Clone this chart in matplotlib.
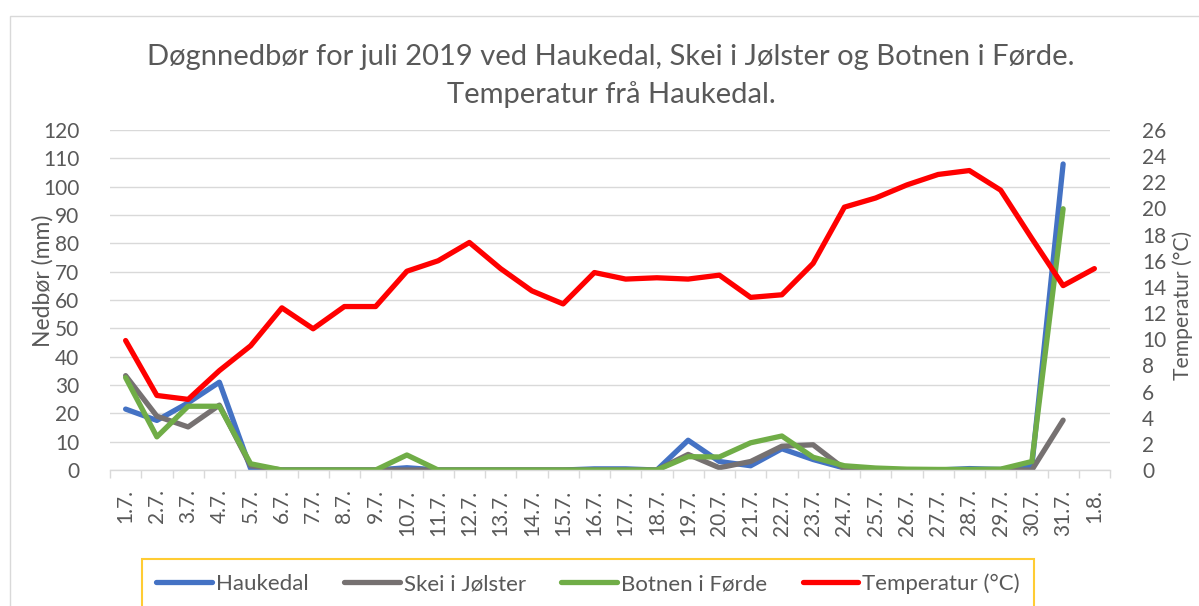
import matplotlib
matplotlib.use("Agg")
import matplotlib.pyplot as plt
from matplotlib.patches import Rectangle
from matplotlib.lines import Line2D

plt.rcParams['font.family'] = ['Lato', 'DejaVu Sans']

dates = ["1.7.", "2.7.", "3.7.", "4.7.", "5.7.", "6.7.", "7.7.", "8.7.", "9.7.", "10.7.",
         "11.7.", "12.7.", "13.7.", "14.7.", "15.7.", "16.7.", "17.7.", "18.7.", "19.7.", "20.7.",
         "21.7.", "22.7.", "23.7.", "24.7.", "25.7.", "26.7.", "27.7.", "28.7.", "29.7.", "30.7.",
         "31.7.", "1.8."]

haukedal = [21.5, 17.5, 23.7, 31.0, 0.5, 0, 0, 0, 0, 0.8,
            0, 0, 0, 0, 0, 0.4, 0.4, 0, 10.5, 3.0,
            1.5, 7.5, 3.7, 0.7, 0.3, 0, 0, 0.5, 0.2, 1.5, 108.0]
skei = [33.3, 19.0, 15.2, 22.9, 1.5, 0, 0, 0, 0, 0,
        0, 0, 0, 0, 0, 0, 0, 0, 5.5, 0.8,
        3.0, 8.4, 8.9, 0.4, 0, 0, 0, 0, 0, 0, 17.6]
botnen = [32.6, 11.7, 22.5, 22.5, 2.2, 0, 0, 0, 0, 5.3,
          0, 0, 0, 0, 0, 0, 0, 0, 4.7, 4.6,
          9.6, 12.0, 4.5, 1.5, 0.7, 0.3, 0.2, 0.2, 0.3, 3.0, 92.2]
temperatur = [9.9, 5.7, 5.4, 7.6, 9.5, 12.4, 10.8, 12.5, 12.5, 15.2,
              16.0, 17.4, 15.4, 13.7, 12.7, 15.1, 14.6, 14.7, 14.6, 14.9,
              13.2, 13.4, 15.8, 20.1, 20.8, 21.8, 22.6, 22.9, 21.4, 17.7,
              14.1, 15.4]

series_names = ["Haukedal", "Skei i Jølster", "Botnen i Førde", "Temperatur (°C)"]
colors = ["#4472C4", "#767171", "#70AD47", "#FF0000"]
txt = "#595959"
grid = "#D9D9D9"

W, H = 1199, 606
fig = plt.figure(figsize=(W / 100, H / 100), dpi=100)

# outer chart border
fig.patches.append(Rectangle((10 / W, -0.2), 1.2, 1 - 16 / H + 0.2, transform=fig.transFigure,
                             fill=False, edgecolor=grid, linewidth=1.0))

ax = fig.add_axes([110 / W, 1 - 470 / H, 1000 / W, 340 / H])
ax2 = ax.twinx()

lw = 3.8
kw = dict(linewidth=lw, solid_capstyle='round', solid_joinstyle='round')
x_p = list(range(len(haukedal)))
ax.plot(x_p, haukedal, color=colors[0], **kw)
ax.plot(x_p, skei, color=colors[1], **kw)
ax.plot(x_p, botnen, color=colors[2], **kw)
ax2.plot(list(range(len(temperatur))), temperatur, color=colors[3], **kw)

ax.set_xlim(-0.5, len(dates) - 0.5)
ax.set_ylim(0, 120)
ax2.set_ylim(0, 26)
ax.set_yticks(range(0, 121, 10))
ax2.set_yticks(range(0, 27, 2))

ax.yaxis.grid(True, color=grid, linewidth=1.0)
ax.set_axisbelow(True)
for a in (ax, ax2):
    for s in a.spines.values():
        s.set_visible(False)
ax.spines['bottom'].set_visible(True)
ax.spines['bottom'].set_color(grid)
ax.spines['bottom'].set_linewidth(1.0)

ax.set_xticks(range(len(dates)))
ax.set_xticklabels(dates, rotation=90, ha='center', va='top')
ax.set_xticks([i - 0.5 for i in range(len(dates) + 1)], minor=True)
ax.tick_params(axis='x', which='major', length=0, pad=14, labelsize=15, labelcolor=txt)
ax.tick_params(axis='x', which='minor', length=6, color=grid, width=1.0)
ax.tick_params(axis='y', length=0, pad=22, labelsize=15, labelcolor=txt)
ax2.tick_params(axis='y', length=0, pad=23, labelsize=15, labelcolor=txt)

fig.text(43 / W, 1 - 281 / H, "Nedbør (mm)", rotation=90, ha='center', va='center',
         fontsize=16.5, color=txt)
fig.text(1183 / W, 1 - 305 / H, "Temperatur (°C)", rotation=90, ha='center', va='center',
         fontsize=15.2, color=txt)

fig.text(611 / W, 1 - 57 / H, "Døgnnedbør for juli 2019 ved Haukedal, Skei i Jølster og Botnen i Førde.",
         ha='center', va='center', fontsize=21, color=txt)
fig.text(611 / W, 1 - 95 / H, "Temperatur frå Haukedal.",
         ha='center', va='center', fontsize=21, color=txt)

handles = [Line2D([0], [0], color=c, linewidth=lw, solid_capstyle='round') for c in colors]
leg = fig.legend(handles, series_names, loc='upper center', bbox_to_anchor=(588 / W, 1 - 559 / H),
                 ncol=4, frameon=True, fancybox=False, fontsize=16, handlelength=2.5,
                 handletextpad=0.18, columnspacing=1.6, borderpad=0.65, borderaxespad=0,
                 labelcolor=txt)
leg.get_frame().set_edgecolor("#FFC000")
leg.get_frame().set_linewidth(1.5)

fig.savefig("out.png", dpi=100)
